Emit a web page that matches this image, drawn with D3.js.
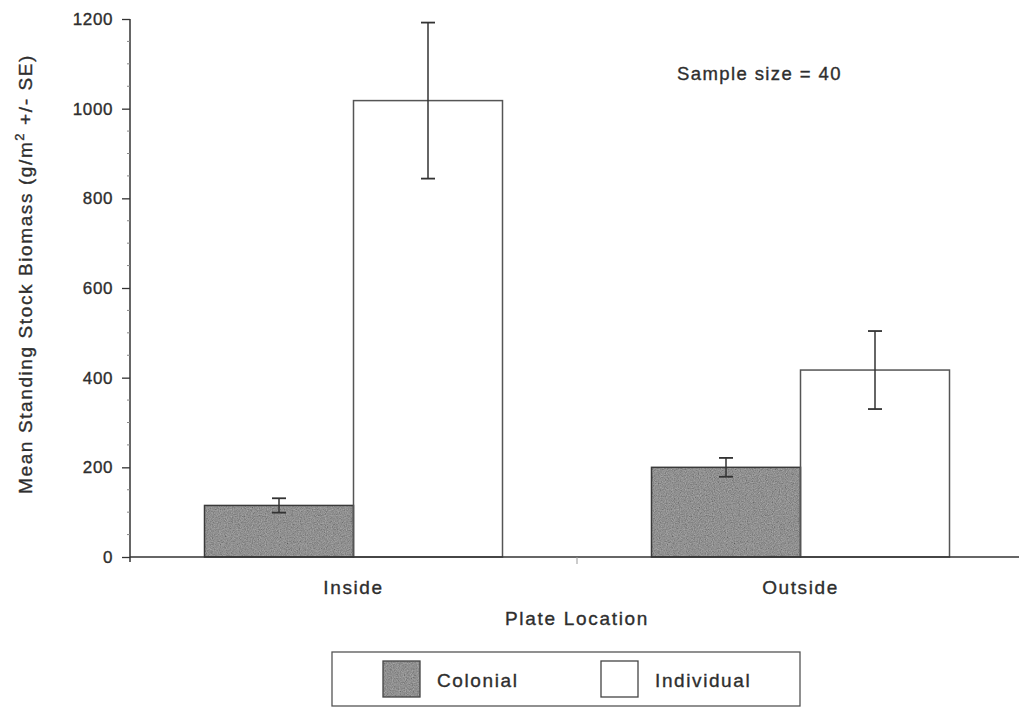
<!DOCTYPE html>
<html>
<head>
<meta charset="utf-8">
<script src="https://cdn.jsdelivr.net/npm/d3@7"></script>
<style>
  html, body { margin: 0; padding: 0; background: #fff; }
  svg { display: block; }
  text { font-family: "Liberation Sans", Arial, sans-serif; fill: #2e2e2e; stroke: #2e2e2e; stroke-width: 0.35px; }
</style>
</head>
<body>
<svg id="chart" width="1019" height="708"></svg>
<script>
// Plate location groups and the two growth forms compared in each
const categories = ["Inside", "Outside"];
const seriesNames = ["Colonial", "Individual"];

// Mean standing stock biomass (g/m2) and standard error per group
const colonialMean = [115, 200];
const colonialSE = [16, 21];
const individualMean = [1018, 417];
const individualSE = [174, 87];

const yTicks = [0, 200, 400, 600, 800, 1000, 1200];
const sampleNote = "Sample size = 40";

const rows = categories.map((c, i) => ({
  category: c,
  values: [
    { series: "Colonial", mean: colonialMean[i], se: colonialSE[i] },
    { series: "Individual", mean: individualMean[i], se: individualSE[i] }
  ]
}));

const svg = d3.select("#chart");
const ink = "#333";

// Grainy grey fill for the colonial bars
const defs = svg.append("defs");
const grain = defs.append("filter").attr("id", "grain")
  .attr("x", 0).attr("y", 0).attr("width", 1).attr("height", 1);
grain.append("feTurbulence").attr("type", "fractalNoise")
  .attr("baseFrequency", 0.85).attr("numOctaves", 2).attr("seed", 7).attr("result", "noise");
grain.append("feColorMatrix").attr("in", "noise").attr("type", "matrix")
  .attr("values", "0.33 0.33 0.33 0 0  0.33 0.33 0.33 0 0  0.33 0.33 0.33 0 0  0 0 0 0 1")
  .attr("result", "grey");
grain.append("feComposite").attr("in", "grey").attr("in2", "SourceGraphic")
  .attr("operator", "arithmetic").attr("k1", 0).attr("k2", 0.6).attr("k3", 1).attr("k4", -0.29);

const fills = { Colonial: "#8e8e8e", Individual: "#ffffff" };

const y = d3.scaleLinear().domain([0, 1200]).range([557, 19]);
const x = d3.scaleBand().domain(categories).range([130, 1024]);
const xs = d3.scaleBand().domain(seriesNames)
  .range([(x.bandwidth() - 298) / 2, (x.bandwidth() + 298) / 2]);

// Y axis: major ticks with labels, minor ticks every 50
const yAxis = svg.append("g").attr("transform", "translate(130,0)")
  .call(d3.axisLeft(y).tickValues(yTicks).tickSize(8).tickPadding(9).tickFormat(d3.format("d")));
yAxis.select(".domain").attr("stroke", ink).attr("stroke-width", 1.5).attr("d", `M0,${y(1200)}V${y(0) + 5}`);
yAxis.selectAll(".tick line").attr("stroke", ink).attr("stroke-width", 1.3);
yAxis.selectAll(".tick text").style("font-size", "17px").attr("fill", "#2e2e2e")
  .style("font-family", "'Liberation Sans', Arial, sans-serif").attr("letter-spacing", "0.6px");

const minor = d3.range(0, 1201, 50).filter(v => v % 200 !== 0);
svg.append("g").selectAll("line").data(minor).join("line")
  .attr("x1", 127).attr("x2", 130)
  .attr("y1", d => y(d)).attr("y2", d => y(d))
  .attr("stroke", "#888").attr("stroke-width", 1);

// Bars
const groups = svg.append("g").selectAll("g").data(rows).join("g")
  .attr("transform", d => `translate(${x(d.category)},0)`);

groups.selectAll("rect.fill").data(d => d.values).join("rect")
  .attr("class", "fill")
  .attr("x", d => xs(d.series)).attr("width", xs.bandwidth())
  .attr("y", d => y(d.mean)).attr("height", d => y(0) - y(d.mean))
  .attr("fill", d => fills[d.series])
  .attr("filter", d => d.series === "Colonial" ? "url(#grain)" : null);

groups.selectAll("rect.outline").data(d => d.values).join("rect")
  .attr("class", "outline")
  .attr("x", d => xs(d.series)).attr("width", xs.bandwidth())
  .attr("y", d => y(d.mean)).attr("height", d => y(0) - y(d.mean))
  .attr("fill", "none")
  .attr("stroke", d => d.series === "Colonial" ? "#3a3a3a" : "#555")
  .attr("stroke-width", 1.5);

// Error bars (mean +/- SE)
const cap = 7;
const eb = groups.selectAll("g.err").data(d => d.values).join("g").attr("class", "err")
  .attr("transform", d => `translate(${xs(d.series) + xs.bandwidth() / 2},0)`);
eb.append("line").attr("x1", 0).attr("x2", 0)
  .attr("y1", d => y(d.mean + d.se)).attr("y2", d => y(d.mean - d.se))
  .attr("stroke", ink).attr("stroke-width", 1.5);
eb.append("line").attr("x1", -cap).attr("x2", cap)
  .attr("y1", d => y(d.mean + d.se)).attr("y2", d => y(d.mean + d.se))
  .attr("stroke", ink).attr("stroke-width", 1.8);
eb.append("line").attr("x1", -cap).attr("x2", cap)
  .attr("y1", d => y(d.mean - d.se)).attr("y2", d => y(d.mean - d.se))
  .attr("stroke", ink).attr("stroke-width", 1.8);

// X axis baseline and group separator
svg.append("line").attr("x1", 130).attr("x2", 1019)
  .attr("y1", y(0)).attr("y2", y(0)).attr("stroke", ink).attr("stroke-width", 1.6);
const bounds = [x("Outside")];
svg.append("g").selectAll("line").data(bounds).join("line")
  .attr("x1", d => d).attr("x2", d => d)
  .attr("y1", y(0)).attr("y2", y(0) + 7)
  .attr("stroke", "#999").attr("stroke-width", 1);

svg.append("g").selectAll("text").data(categories).join("text")
  .attr("x", d => x(d) + x.bandwidth() / 2).attr("y", 594)
  .attr("text-anchor", "middle").style("font-size", "19px").attr("letter-spacing", "1.6px")
  .text(d => d);

// Axis titles
svg.append("text").attr("x", 577).attr("y", 625).attr("text-anchor", "middle")
  .style("font-size", "19px").attr("letter-spacing", "1.7px").text("Plate Location");

const yt = svg.append("text").attr("transform", "translate(32,274) rotate(-90)")
  .attr("text-anchor", "middle").style("font-size", "19px").attr("letter-spacing", "1.6px");
yt.append("tspan").text("Mean Standing Stock Biomass (g/m");
yt.append("tspan").attr("dy", -8).style("font-size", "13px").text("2");
yt.append("tspan").attr("dy", 8).text(" +/- SE)");

// Sample size note
svg.append("text").attr("x", 677).attr("y", 80)
  .style("font-size", "18.5px").attr("letter-spacing", "1.4px").text(sampleNote);

// Legend
const lg = svg.append("g");
lg.append("rect").attr("x", 332).attr("y", 652).attr("width", 468).attr("height", 54)
  .attr("fill", "#fff").attr("stroke", "#555").attr("stroke-width", 1.3);
const legendX = [383, 601];
const items = lg.selectAll("g").data(seriesNames).join("g")
  .attr("transform", (d, i) => `translate(${legendX[i]},661)`);
items.append("rect").attr("width", 37).attr("height", 36)
  .attr("fill", d => fills[d])
  .attr("filter", d => d === "Colonial" ? "url(#grain)" : null);
items.append("rect").attr("width", 37).attr("height", 36)
  .attr("fill", "none").attr("stroke", "#444").attr("stroke-width", 1.3);
items.append("text").attr("x", 54).attr("y", 26)
  .style("font-size", "19px").attr("letter-spacing", "1.6px").text(d => d);
</script>
</body>
</html>
